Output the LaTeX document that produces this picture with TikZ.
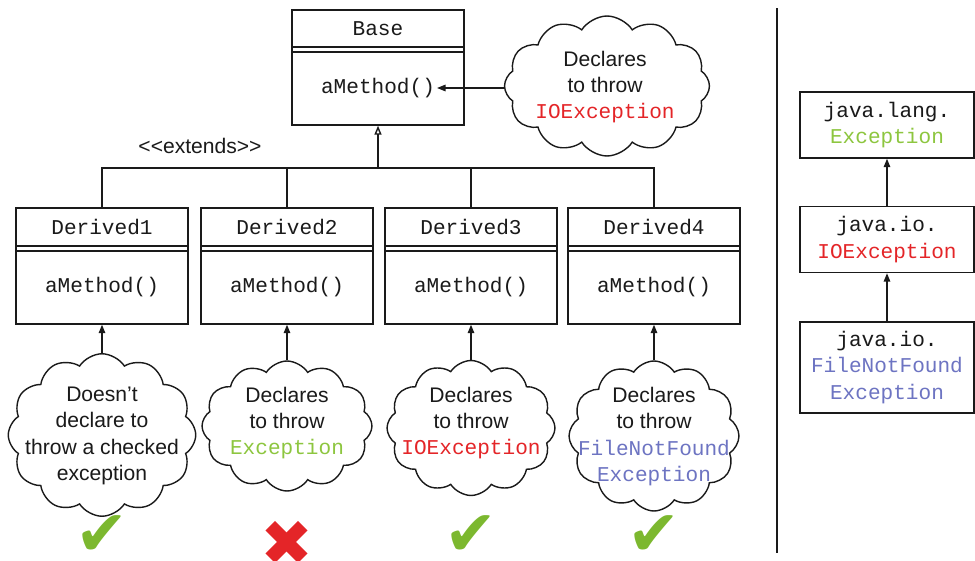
\documentclass[tikz,border=0pt]{standalone}
\usepackage{fontspec}
\setmainfont{Liberation Sans}
\setmonofont{Liberation Mono}
\newfontfamily\markfont{DejaVu Sans}
\usetikzlibrary{arrows.meta,calc,positioning,shapes.symbols}
\definecolor{ovink}{HTML}{1A1A1A}
\definecolor{ovred}{HTML}{E42528}
\definecolor{ovgreen}{HTML}{8DC63F}
\definecolor{ovblue}{HTML}{6D74C2}
\definecolor{ovtick}{HTML}{7CB82F}
\tikzset{
  ov text/.style={font=\fontsize{12}{15}\selectfont, text=ovink},
  ov class/.style={draw=ovink, line width=0.8pt, fill=white,
    minimum width=3.44cm, minimum height=2.32cm},
  ov mono/.style={font=\ttfamily\fontsize{12}{15}\selectfont, text=ovink,
    inner sep=1pt, align=center},
  ov exc/.style={draw=ovink, line width=0.8pt, fill=white, minimum width=3.48cm,
    minimum height=1.32cm, align=center, font=\ttfamily\fontsize{12}{15}\selectfont},
  ov cloud/.style={cloud, cloud puffs=12, cloud puff arc=115, cloud ignores aspect,
    draw=ovink, line width=0.8pt, fill=white, inner sep=0pt},
  ov note/.style={align=center, font=\fontsize{12}{15}\selectfont, inner sep=0pt},
  ov arrow/.style={-{Triangle[length=1.7mm,width=1.3mm]}, line width=0.8pt, draw=ovink},
  ov inherit/.style={-{Triangle[open,length=1.8mm,width=1.4mm]}, line width=0.8pt,
    draw=ovink},
  ov line/.style={line width=0.8pt, draw=ovink},
  ov mark/.style={font=\markfont\fontsize{36}{36}\selectfont, inner sep=0pt}
}

\begin{document}
\begin{tikzpicture}[ov text, x=0.02cm, y=-0.02cm]
  \useasboundingbox (0,0) rectangle (975,561);
  % base class
  \node[ov class, minimum height=2.3cm] (base) at (378,67.5) {};
  \node[ov mono] (bname) at (378,29) {Base};
  \node[ov mono] (bm) at (378,88) {aMethod()};
  \draw[ov line] (292,47) -- (464,47) (292,52) -- (464,52);
  \node[ov cloud, minimum width=4.1cm, minimum height=2.8cm] (cb) at (607,86) {};
  \node[ov note] (cb text) at (605,87)
    {Declares\\to throw\\{\ttfamily\color{ovred}IOException}};
  \draw[ov arrow] (cb.west |- bm) -- (bm.east);
  % derived classes
  \foreach \i/\x in {1/102,2/287,3/471,4/654}{
    \node[ov class] (d\i) at (\x,266) {};
    \node[ov mono] (d\i name) at (\x,227) {Derived\i};
    \node[ov mono] (d\i m) at (\x,287) {aMethod()};
    \draw[ov line] (\x-86,246) -- (\x+86,246) (\x-86,251) -- (\x+86,251);
  }
  \node (ext) at (200,146) {{<}{<}extends{>}{>}};
  \coordinate (join) at (378,168);
  \draw[ov inherit] (join) -- (base.south);
  \draw[ov line] (d1.north) |- (join) (d4.north) |- (join);
  \draw[ov line] (d2.north) -- (d2.north |- join) (d3.north) -- (d3.north |- join);
  % overriding methods
  \node[ov cloud, minimum width=3.75cm, minimum height=3.25cm] (c1) at (102,435) {};
  \node[ov note] (c1 text) at (102,436)
    {Doesn't\\declare to\\throw a checked\\exception};
  \node[ov cloud, minimum width=3.4cm, minimum height=2.6cm] (c2) at (287,426) {};
  \node[ov note] (c2 text) at (287,423)
    {Declares\\to throw\\{\ttfamily\color{ovgreen}Exception}};
  \node[ov cloud, minimum width=3.36cm, minimum height=2.7cm] (c3) at (471,428) {};
  \node[ov note] (c3 text) at (471,423)
    {Declares\\to throw\\{\ttfamily\color{ovred}IOException}};
  \node[ov cloud, minimum width=3.4cm, minimum height=3.0cm] (c4) at (654,436) {};
  \node[ov note] (c4 text) at (654,436.5)
    {Declares\\to throw\\{\ttfamily\color{ovblue}FileNotFound}\\{\ttfamily\color{ovblue}Exception}};
  \foreach \i in {1,...,4}
    \draw[ov arrow] (c\i.north) -- (d\i.south);
  \node[ov mark, text=ovtick] (ok1) at (102,536) {✔};
  \node[ov mark, text=ovred] (no2) at (287,543) {✖};
  \node[ov mark, text=ovtick] (ok3) at (471,536) {✔};
  \node[ov mark, text=ovtick] (ok4) at (654,536) {✔};
  % divider
  \draw[line width=1pt, draw=ovink] (777,8) -- (777,553);
  % exception hierarchy
  \node[ov exc] (exc) at (887,125) {java.lang.\\\textcolor{ovgreen}{Exception}};
  \node[ov exc] (ioe) at (887,239.5) {java.io.\\\textcolor{ovred}{IOException}};
  \node[ov exc, minimum height=1.82cm] (fnf) at (887,367.5)
    {java.io.\\\textcolor{ovblue}{FileNotFound}\\\textcolor{ovblue}{Exception}};
  \draw[ov arrow] (ioe) -- (exc);
  \draw[ov arrow] (fnf) -- (ioe);
\end{tikzpicture}
\end{document}
